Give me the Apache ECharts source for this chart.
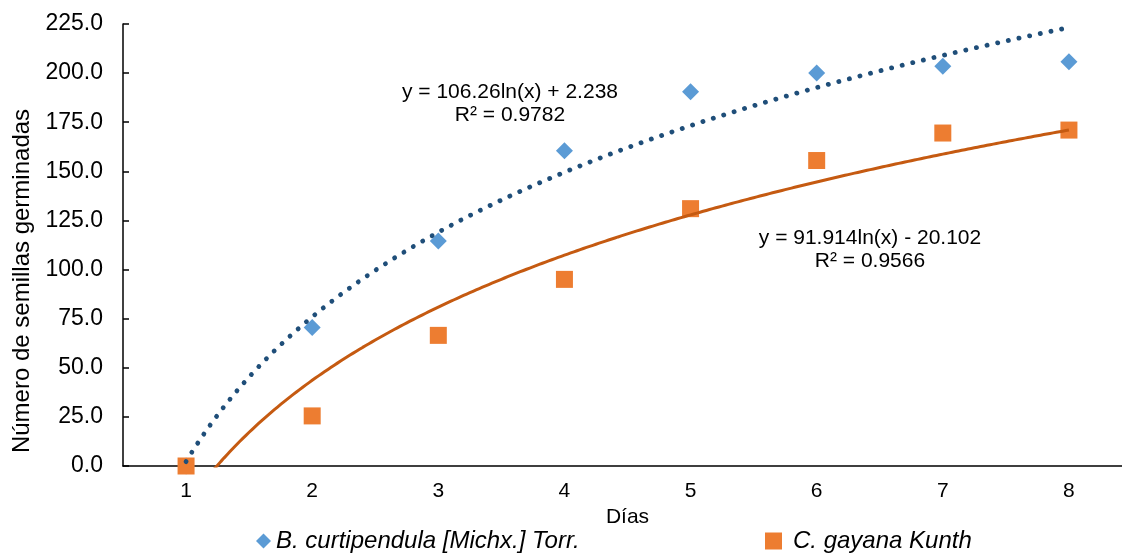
<!DOCTYPE html>
<html>
<head>
<meta charset="utf-8">
<script src="https://cdn.jsdelivr.net/npm/echarts@6/dist/echarts.min.js"></script>
<style>html,body{margin:0;padding:0;background:#fff;overflow:hidden;width:1122px;height:553px}#c{width:1132px;height:553px}</style>
</head>
<body>
<div id="c"></div>
<script>
var days = [1, 2, 3, 4, 5, 6, 7, 8];
var dayLabels = ['1', '2', '3', '4', '5', '6', '7', '8'];
var seriesNames = ['B. curtipendula [Michx.] Torr.', 'C. gayana Kunth'];
var bValues = [0, 70.5, 114.5, 160.5, 190.5, 200, 203.5, 205.8];
var cValues = [0, 25.5, 66.5, 95, 131, 155.5, 169.5, 171];
// trendline coefficients printed on the chart: y = a ln(x) + b
var bTrend = [106.26, 2.238];
var cTrend = [91.914, -20.102];
var bEq = ['y = 106.26ln(x) + 2.238', 'R\u00b2 = 0.9782'];
var cEq = ['y = 91.914ln(x) - 20.102', 'R\u00b2 = 0.9566'];
var yTitle = 'Número de semillas germinadas';
var xTitle = 'Días';

function trend(c) {
  var pts = [];
  for (var i = 0; i <= 280; i++) {
    var x = 1 + i * 7 / 280;
    pts.push([x, c[0] * Math.log(x) + c[1]]);
  }
  return pts;
}
function pairs(v) { return days.map(function (d, i) { return [d, v[i]]; }); }

var F = 'Liberation Sans, Arial, sans-serif';
var legendText = { fontFamily: F, fontSize: 24, fontStyle: 'italic', color: '#000' };
var chart = echarts.init(document.getElementById('c'));
chart.setOption({
  animation: false,
  grid: { left: 123, right: 0, top: 24, bottom: 87, containLabel: false, outerBoundsMode: 'none' },
  xAxis: [{
    type: 'category', data: dayLabels, boundaryGap: true,
    name: xTitle, nameLocation: 'middle', nameGap: 41,
    nameTextStyle: { fontFamily: F, fontSize: 21, color: '#000' },
    axisLine: { lineStyle: { color: '#000', width: 1.5 } },
    axisTick: { inside: true, length: 6, lineStyle: { color: '#000', width: 1.5 } },
    axisLabel: { fontFamily: F, fontSize: 21, color: '#000', margin: 15 },
    splitLine: { show: false }
  }, {
    type: 'value', min: 0.5, max: 8.5, show: false
  }],
  yAxis: {
    type: 'value', min: 0, max: 225, interval: 25,
    axisLine: { show: true, lineStyle: { color: '#000', width: 1.5 } },
    axisTick: { show: true, inside: true, length: 6, lineStyle: { color: '#000', width: 1.5 } },
    axisLabel: { fontFamily: F, fontSize: 23, color: '#000', margin: 20,
      formatter: function (v) { return v.toFixed(1); } },
    splitLine: { show: false }
  },
  legend: [{
    top: 524, left: 251, itemWidth: 15, itemHeight: 15, itemGap: 6,
    data: [{ name: seriesNames[0], icon: 'diamond' }], textStyle: legendText
  }, {
    top: 524, left: 760, itemWidth: 17, itemHeight: 17,
    data: [{ name: seriesNames[1], icon: 'rect' }],
    textStyle: Object.assign({}, legendText, { padding: [0, 0, 0, 6] })
  }],
  series: [{
    name: 'bTrend', type: 'line', xAxisIndex: 1, data: trend(bTrend), showSymbol: false,
    symbol: 'none', lineStyle: { color: '#1F4E79', width: 4.8, type: [0.1, 10.8], cap: 'round' }, z: 3
  }, {
    name: 'cTrend', type: 'line', xAxisIndex: 1, data: trend(cTrend), showSymbol: false,
    symbol: 'none', lineStyle: { color: '#C55A11', width: 3 }, z: 3
  }, {
    name: seriesNames[0], type: 'scatter', xAxisIndex: 1, data: pairs(bValues),
    symbol: 'diamond', symbolSize: 17, itemStyle: { color: '#5B9BD5', opacity: 1 }, z: 2
  }, {
    name: seriesNames[1], type: 'scatter', xAxisIndex: 1, data: pairs(cValues),
    symbol: 'rect', symbolSize: 17, itemStyle: { color: '#ED7D31', opacity: 1 }, z: 2
  }],
  graphic: [
    { type: 'text', x: 22, y: 281, rotation: Math.PI / 2, style: { text: yTitle, align: 'center', verticalAlign: 'middle', font: '24px ' + F, fill: '#000' } },
    { type: 'text', x: 510, y: 104, style: { text: bEq.join('\n'), align: 'center', verticalAlign: 'middle', font: '21px ' + F, fill: '#000', lineHeight: 23 } },
    { type: 'text', x: 870, y: 250, style: { text: cEq.join('\n'), align: 'center', verticalAlign: 'middle', font: '21px ' + F, fill: '#000', lineHeight: 23 } }
  ]
});
</script>
</body>
</html>
